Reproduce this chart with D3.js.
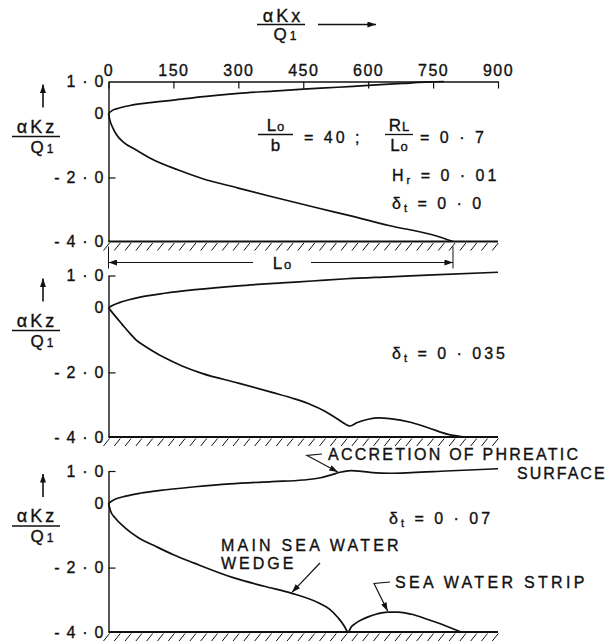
<!DOCTYPE html>
<html>
<head>
<meta charset="utf-8">
<script src="https://cdn.jsdelivr.net/npm/d3@7"></script>
<style>
body { margin: 0; background: #fff; }
text { font-family: "Liberation Sans", Arial, sans-serif; fill: #111; stroke: #111; stroke-width: 0.35px; }
</style>
</head>
<body>
<div id="chart"></div>
<script>
// values: x = aKx/Q1, z = aKz/Q1
var xTicks = [0, 150, 300, 450, 600, 750, 900];
var yTicks = [1, 0, -2, -4];
var yTickLabels = ["1 · 0", "0", "- 2 · 0", "- 4 · 0"];
var deltaLabels = ["0 · 0", "0 · 035", "0 · 07"];
var L0 = 796;

// delta_t = 0.0
var phreatic0 = [[0,0],[8,0.09],[25,0.17],[50,0.25],[90,0.33],[150,0.42],[220,0.53],[300,0.63],[380,0.7],[450,0.76],[530,0.82],[600,0.88],[680,0.94],[740,0.99],[775,1.0]];
var wedge0 = [[0,0],[3,-0.2],[10,-0.45],[19,-0.67],[35,-0.9],[64,-1.14],[100,-1.42],[160,-1.76],[216,-2.03],[300,-2.33],[378,-2.6],[486,-2.96],[560,-3.2],[648,-3.5],[756,-3.82],[796,-4]];

// delta_t = 0.035
var phreatic035 = [[0,0],[10,0.08],[25,0.16],[45,0.24],[73,0.33],[130,0.45],[200,0.56],[300,0.68],[400,0.77],[470,0.83],[550,0.9],[650,0.96],[750,1.02],[900,1.1]];
var wedge035 = [[0,0],[15,-0.25],[32,-0.52],[50,-0.8],[64,-1.0],[80,-1.15],[100,-1.32],[130,-1.55],[170,-1.8],[216,-2.03],[300,-2.33],[378,-2.62],[430,-2.82],[468,-3.0],[500,-3.2],[530,-3.45],[550,-3.62],[558,-3.66],[575,-3.55],[600,-3.45],[625,-3.41],[650,-3.43],[700,-3.55],[740,-3.72],[785,-3.92],[823,-4]];

// delta_t = 0.07
var phreatic07 = [[0,0],[15,0.12],[40,0.22],[73,0.31],[120,0.4],[200,0.51],[280,0.6],[378,0.67],[450,0.72],[490,0.79],[515,0.88],[535,0.96],[560,1.01],[585,0.99],[610,0.95],[650,0.93],[700,0.95],[780,1.0],[900,1.07]];
var wedge07 = [[0,0],[5,-0.25],[15,-0.45],[37,-0.75],[70,-1.08],[109,-1.34],[150,-1.6],[198,-1.86],[290,-2.32],[360,-2.58],[424,-2.8],[486,-3.1],[510,-3.28],[530,-3.55],[545,-3.82],[552,-4]];
var strip07 = [[555,-4],[560,-3.86],[570,-3.74],[585,-3.62],[600,-3.53],[620,-3.44],[645,-3.38],[670,-3.38],[700,-3.45],[738,-3.61],[770,-3.76],[800,-3.92],[815,-4]];

var svgWidth = 609, svgHeight = 644;
var svg = d3.select("#chart").append("svg")
  .attr("width", svgWidth)
  .attr("height", svgHeight);

var defs = svg.append("defs");
defs.append("marker")
  .attr("id", "head")
  .attr("viewBox", "0 0 10 7")
  .attr("refX", 10).attr("refY", 3.5)
  .attr("markerWidth", 9).attr("markerHeight", 6)
  .attr("markerUnits", "userSpaceOnUse")
  .attr("orient", "auto")
  .append("path").attr("d", "M0,0L10,3.5L0,7z").attr("fill", "#111").attr("stroke", "none");

var xScale = d3.scaleLinear().domain([0, 900]).range([108.5, 498]);

var panels = [
  {top: 81.5, bottom: 241.5, lines: [phreatic0, wedge0], delta: deltaLabels[0], deltaX: 392, deltaY: 209},
  {top: 275.5, bottom: 437, lines: [phreatic035, wedge035], delta: deltaLabels[1], deltaX: 392, deltaY: 359},
  {top: 471, bottom: 632, lines: [phreatic07, wedge07, strip07], delta: deltaLabels[2], deltaX: 389, deltaY: 524}
];

function sub(sel, main, small, rest) {
  sel.append("tspan").text(main);
  sel.append("tspan").attr("font-size", "11px").attr("dy", 3).text(small);
  if (rest) sel.append("tspan").attr("dy", -3).text(rest);
}

panels.forEach(function(p, pi) {
  var yScale = d3.scaleLinear().domain([-4, 1]).range([p.bottom, p.top]);
  p.y = yScale;
  var g = svg.append("g");

  // y axis
  var yAxis = d3.axisLeft(yScale)
    .tickValues(yTicks)
    .tickSize(-7)
    .tickSizeOuter(0)
    .tickPadding(4)
    .tickFormat(function(d, i) { return yTickLabels[i]; });
  var ya = g.append("g").attr("transform", "translate(" + xScale(0) + ",0)").call(yAxis);
  ya.select(".domain").attr("stroke", "#111").attr("stroke-width", 1.4);
  ya.selectAll(".tick line").attr("stroke", "#111").attr("stroke-width", 1.2)
    .attr("display", function(d) { return (d === 0 || d === -4 || (pi === 0 && d === 1)) ? "none" : null; });
  ya.selectAll(".tick text")
    .attr("font-size", "16px")
    .attr("letter-spacing", "1.2px")
    .attr("fill", "#111")
    .attr("font-family", "Liberation Sans, Arial, sans-serif");

  // impervious base with hatching
  var base = yScale(-4);
  g.append("line")
    .attr("x1", xScale(0)).attr("x2", xScale(900))
    .attr("y1", base).attr("y2", base)
    .attr("stroke", "#111").attr("stroke-width", 2.2);
  var hatch = d3.range(xScale(0) - 5, xScale(900), 10.8);
  g.selectAll("line.hatch").data(hatch).enter().append("line")
    .attr("class", "hatch")
    .attr("x1", function(d) { return d; }).attr("y1", base + 9)
    .attr("x2", function(d) { return d + 6; }).attr("y2", base + 1.5)
    .attr("stroke", "#111").attr("stroke-width", 1);

  // curves
  var line = d3.line()
    .x(function(d) { return xScale(d[0]); })
    .y(function(d) { return yScale(d[1]); })
    .curve(d3.curveMonotoneX);
  g.selectAll("path.curve").data(p.lines).enter().append("path")
    .attr("class", "curve")
    .attr("d", line)
    .attr("fill", "none")
    .attr("stroke", "#111")
    .attr("stroke-width", 1.7);

  // y label: arrow and aKz / Q1
  g.append("line")
    .attr("x1", 43).attr("x2", 43)
    .attr("y1", p.top + 26).attr("y2", p.top + 3)
    .attr("stroke", "#111").attr("stroke-width", 1.6)
    .attr("marker-end", "url(#head)");
  g.append("text").attr("x", 37).attr("y", p.top + 51)
    .attr("text-anchor", "middle").attr("font-size", "18px").attr("letter-spacing", "3px")
    .text("αKz");
  g.append("line").attr("x1", 12).attr("x2", 60)
    .attr("y1", p.top + 55).attr("y2", p.top + 55)
    .attr("stroke", "#111").attr("stroke-width", 1.4);
  var q = g.append("text").attr("x", 42).attr("y", p.top + 71)
    .attr("text-anchor", "middle").attr("font-size", "17px");
  q.append("tspan").text("Q");
  q.append("tspan").attr("font-size", "12px").attr("dx", 3).text("1");

  // delta_t label
  var dt = g.append("text").attr("x", p.deltaX).attr("y", p.deltaY)
    .attr("font-size", "16px").attr("letter-spacing", "3px");
  sub(dt, "δ", "t", " = " + p.delta);
});

// top x axis
var xAxis = d3.axisTop(xScale)
  .tickValues(xTicks)
  .tickSizeInner(-7)
  .tickSizeOuter(0)
  .tickPadding(6);
var xa = svg.append("g").attr("transform", "translate(0," + panels[0].top + ")").call(xAxis);
xa.select(".domain").attr("stroke", "#111").attr("stroke-width", 1.4);
xa.selectAll(".tick line").attr("stroke", "#111").attr("stroke-width", 1.2);
xa.selectAll(".tick text")
  .attr("font-size", "16px")
  .attr("letter-spacing", "1.5px")
  .attr("fill", "#111")
  .attr("font-family", "Liberation Sans, Arial, sans-serif");

// x label aKx / Q1 with arrow
svg.append("text").attr("x", 283).attr("y", 21.5)
  .attr("text-anchor", "middle").attr("font-size", "18px").attr("letter-spacing", "3px")
  .text("αKx");
svg.append("line").attr("x1", 257).attr("x2", 305).attr("y1", 24.5).attr("y2", 24.5)
  .attr("stroke", "#111").attr("stroke-width", 1.4);
var qx = svg.append("text").attr("x", 285).attr("y", 40)
  .attr("text-anchor", "middle").attr("font-size", "17px");
qx.append("tspan").text("Q");
qx.append("tspan").attr("font-size", "12px").attr("dx", 3).text("1");
svg.append("line").attr("x1", 318).attr("x2", 376).attr("y1", 24.5).attr("y2", 24.5)
  .attr("stroke", "#111").attr("stroke-width", 1.6)
  .attr("marker-end", "url(#head)");

// parameters of top panel
function frac(x0, x1, num, numSub, den, denSub) {
  var cx = (x0 + x1) / 2;
  var t1 = svg.append("text").attr("x", cx).attr("y", 131).attr("text-anchor", "middle").attr("font-size", "17px");
  t1.append("tspan").text(num);
  t1.append("tspan").attr("font-size", "13px").attr("dx", 1).text(numSub);
  svg.append("line").attr("x1", x0).attr("x2", x1).attr("y1", 134.5).attr("y2", 134.5)
    .attr("stroke", "#111").attr("stroke-width", 1.3);
  var t2 = svg.append("text").attr("x", cx).attr("y", 151).attr("text-anchor", "middle").attr("font-size", "17px");
  t2.append("tspan").text(den);
  if (denSub) t2.append("tspan").attr("font-size", "13px").attr("dx", 1).text(denSub);
}
frac(258, 293, "L", "o", "b", "");
svg.append("text").attr("x", 304).attr("y", 142.5).attr("font-size", "16px").attr("letter-spacing", "3px")
  .text("= 40 ;");
frac(385, 413, "R", "L", "L", "o");
svg.append("text").attr("x", 420).attr("y", 142.5).attr("font-size", "16px").attr("letter-spacing", "3px")
  .text("= 0 · 7");
var hr = svg.append("text").attr("x", 392).attr("y", 181).attr("font-size", "16px").attr("letter-spacing", "3px");
sub(hr, "H", "r", " = 0 · 01");

// L0 dimension line
var dimY = 262.5;
var base0 = panels[0].y(-4);
[xScale(0), xScale(L0)].forEach(function(xx) {
  svg.append("line").attr("x1", xx).attr("x2", xx).attr("y1", base0 + 5).attr("y2", dimY + 6)
    .attr("stroke", "#111").attr("stroke-width", 1);
});
svg.append("line").attr("x1", 253).attr("x2", xScale(0)).attr("y1", dimY).attr("y2", dimY)
  .attr("stroke", "#111").attr("stroke-width", 1.2).attr("marker-end", "url(#head)");
svg.append("line").attr("x1", 311).attr("x2", xScale(L0)).attr("y1", dimY).attr("y2", dimY)
  .attr("stroke", "#111").attr("stroke-width", 1.2).attr("marker-end", "url(#head)");
var lo = svg.append("text").attr("x", 282).attr("y", 269).attr("text-anchor", "middle").attr("font-size", "17px");
lo.append("tspan").text("L");
lo.append("tspan").attr("font-size", "13px").attr("dx", 2).text("o");

// annotations in bottom panel
var yb = panels[2].y;
var ann = svg.append("g").attr("font-size", "16px");
ann.append("text").attr("x", 328).attr("y", 460).attr("letter-spacing", "2.25px").text("ACCRETION OF PHREATIC");
ann.append("text").attr("x", 517).attr("y", 479).attr("letter-spacing", "2px").text("SURFACE");
ann.append("text").attr("x", 221).attr("y", 551).attr("letter-spacing", "3.2px").text("MAIN SEA WATER");
ann.append("text").attr("x", 221).attr("y", 569).attr("letter-spacing", "3px").text("WEDGE");
ann.append("text").attr("x", 395).attr("y", 588).attr("letter-spacing", "3.3px").text("SEA WATER STRIP");

function leader(pts) {
  svg.append("path")
    .attr("d", d3.line()(pts))
    .attr("fill", "none").attr("stroke", "#111").attr("stroke-width", 1.2)
    .attr("marker-end", "url(#head)");
}
leader([[322, 454], [307, 455.5], [xScale(530), yb(0.97)]]);
leader([[320, 563], [xScale(424), yb(-2.8) - 1]]);
leader([[390, 582], [374, 583.5], [xScale(645), yb(-3.38) - 1]]);
</script>
</body>
</html>
